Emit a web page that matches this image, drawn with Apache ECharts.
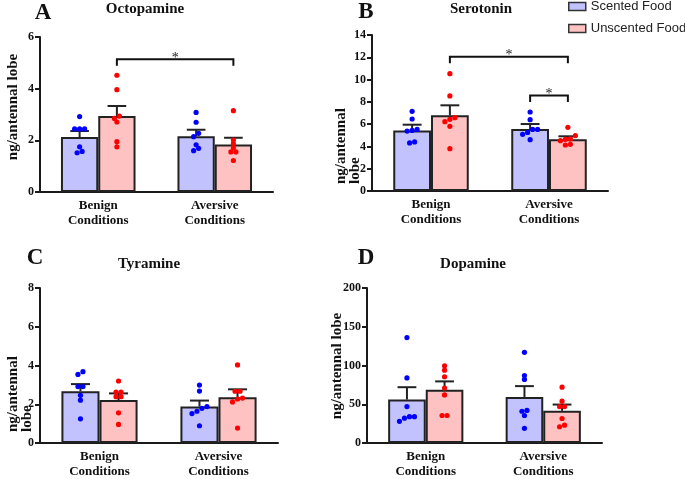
<!DOCTYPE html>
<html>
<head>
<meta charset="utf-8">
<script src="https://cdn.jsdelivr.net/npm/echarts@6/dist/echarts.min.js"></script>
<style>
html,body{margin:0;padding:0;background:#fff;}
#chart{width:685px;height:479px;}
</style>
</head>
<body>
<div id="chart"></div>
<script>
// ---------------- DATA ----------------
const categories = ['Benign\nConditions', 'Aversive\nConditions'];
const seriesNames = ['Scented Food', 'Unscented Food'];

// [scented, unscented] x [benign, aversive]
const octoMean = [[2.13, 2.16], [2.94, 1.84]];
const octoSem = [[0.23, 0.25], [0.39, 0.26]];
const octoPoints = [
  [[2.92, 2.44, 2.44, 2.44, 1.75, 1.52, 1.57], [3.08, 2.70, 2.27, 2.14, 1.83, 1.69, 1.60]],
  [[4.52, 3.96, 2.94, 2.85, 2.71, 1.95, 1.75], [3.15, 2.01, 1.87, 1.71, 1.55, 1.55, 1.22]]
];
const octoBrackets = [[0, 1, 1, 1, 5.14]]; // from [cat, series] to [cat, series] at y

const seroMean = [[5.44, 5.56], [6.79, 4.64]];
const seroSem = [[0.51, 0.45], [0.90, 0.27]];
const seroPoints = [
  [[7.15, 6.46, 5.44, 5.38, 5.53, 4.31, 4.40], [7.09, 6.40, 5.53, 5.53, 5.26, 5.09, 4.61]],
  [[10.53, 8.53, 6.43, 6.22, 6.58, 5.80, 3.80], [5.71, 4.97, 4.67, 4.64, 4.52, 4.13, 4.19]]
];
const seroBrackets = [[0, 1, 1, 1, 12.05], [1, 0, 1, 1, 8.57]];

const tyraMean = [[2.67, 1.88], [2.22, 2.36]];
const tyraSem = [[0.37, 0.31], [0.34, 0.41]];
const tyraPoints = [
  [[3.54, 3.68, 2.91, 2.91, 2.46, 2.21, 1.25], [2.99, 2.68, 1.79, 1.88, 1.64, 1.52, 0.89]],
  [[3.20, 2.63, 2.63, 2.39, 2.39, 1.56, 0.96], [4.03, 2.67, 2.67, 2.27, 2.32, 2.12, 0.77]]
];
const tyraBrackets = [];

const dopaMean = [[56.0, 59.4], [68.8, 41.5]];
const dopaSem = [[16.0, 14.0], [10.7, 8.1]];
const dopaPoints = [
  [[136, 84, 47, 34, 28, 32, 34], [117, 87, 82, 41, 42, 35.5, 19]],
  [[99.6, 94, 85.5, 71, 62, 35.5, 35.5], [72, 54, 47, 47, 31.6, 21, 23]]
];
const dopaBrackets = [];

const yTicksMax = [6, 14, 8, 200];
const yTicksInterval = [2, 2, 2, 50];
const panelTitles = ['Octopamine', 'Serotonin', 'Tyramine', 'Dopamine'];
const panelLetters = ['A', 'B', 'C', 'D'];
const yAxisNames = ['ng/antennal lobe', 'ng/antennal\nlobe', 'ng/antennal\nlobe', 'ng/antennal lobe'];

// ---------------- STYLE / LAYOUT ----------------
const SERIF = '"Liberation Serif", "Times New Roman", serif';
const SANS = '"Liberation Sans", Arial, sans-serif';
const INK = '#1a1a1a';
const barFill = ['#c2c2ff', '#ffc2c2'];
const dotColor = ['#0000ff', '#ff0000'];
const BAR_FRAC = 0.32;
const SPREAD = 5;

const grids = [
  {left: 40, top: 37, width: 233, height: 155},
  {left: 372, top: 35, width: 236, height: 156},
  {left: 40, top: 288, width: 238, height: 156},
  {left: 367, top: 288, width: 235, height: 156}
];
const titlePos = [[145, 9], [481, 9], [149, 264], [473, 264]];
const letterPos = [[43, 13], [366, 12], [35, 258], [366, 258]];
const yNamePos = [
  {x: 13, y: 107, align: 'center'},
  {x: 348, y: 184, align: 'left'},
  {x: 20.5, y: 432, align: 'left'},
  {x: 337, y: 366, align: 'center'}
];

const panels = [
  {mean: octoMean, sem: octoSem, pts: octoPoints, br: octoBrackets},
  {mean: seroMean, sem: seroSem, pts: seroPoints, br: seroBrackets},
  {mean: tyraMean, sem: tyraSem, pts: tyraPoints, br: tyraBrackets},
  {mean: dopaMean, sem: dopaSem, pts: dopaPoints, br: dopaBrackets}
];

function xPos(cat, s) { return cat + 0.5 + (s === 0 ? -BAR_FRAC / 2 : BAR_FRAC / 2); }

function jitter(values, axisMax) {
  const idx = values.map((v, i) => i).sort((a, b) => values[a] - values[b]);
  const thr = axisMax * 0.022;
  const off = new Array(values.length).fill(0);
  let cluster = [idx[0]];
  const flush = () => {
    const n = cluster.length;
    cluster.forEach((id, k) => { off[id] = (k - (n - 1) / 2) * SPREAD; });
  };
  for (let i = 1; i < idx.length; i++) {
    if (values[idx[i]] - values[idx[i - 1]] < thr) cluster.push(idx[i]);
    else { flush(); cluster = [idx[i]]; }
  }
  flush();
  return off;
}

const option = {
  animation: false,
  backgroundColor: '#fff',
  grid: grids.map(g => Object.assign({containLabel: false}, g)),
  xAxis: [],
  yAxis: [],
  series: [],
  legend: {
    data: seriesNames,
    orient: 'vertical',
    left: 568,
    top: 0,
    padding: 0,
    itemGap: 9,
    itemWidth: 17,
    itemHeight: 8,
    icon: 'rect',
    selectedMode: false,
    itemStyle: {borderColor: '#333', borderWidth: 1.5},
    textStyle: {fontFamily: SANS, fontSize: 13, color: '#222'}
  },
  graphic: []
};

panels.forEach((P, p) => {
  option.xAxis.push({
    type: 'category', gridIndex: p, data: categories,
    axisLine: {lineStyle: {color: INK, width: 2}},
    axisTick: {alignWithLabel: true, length: 5, lineStyle: {color: INK, width: 2}},
    axisLabel: {fontFamily: SERIF, fontWeight: 'bold', fontSize: 13, lineHeight: 15, color: '#111', margin: 6},
    splitLine: {show: false}
  });
  option.xAxis.push({type: 'value', gridIndex: p, min: 0, max: 2, show: false});
  option.yAxis.push({
    type: 'value', gridIndex: p, min: 0, max: yTicksMax[p], interval: yTicksInterval[p],
    axisLine: {show: true, lineStyle: {color: INK, width: 2}},
    axisTick: {show: true, length: 5, lineStyle: {color: INK, width: 2}},
    axisLabel: {fontFamily: SERIF, fontWeight: 'bold', fontSize: 12, color: '#111', margin: 6},
    splitLine: {show: false}
  });

  [0, 1].forEach(s => {
    option.series.push({
      type: 'bar', name: seriesNames[s], xAxisIndex: 2 * p, yAxisIndex: p,
      data: P.mean[s], barWidth: (BAR_FRAC * 100) + '%', barGap: '0%',
      itemStyle: {color: barFill[s], borderColor: '#222', borderWidth: 2},
      z: 2
    });
  });

  const errData = [];
  [0, 1].forEach(s => [0, 1].forEach(c => {
    errData.push([xPos(c, s), P.mean[s][c], P.mean[s][c] + P.sem[s][c]]);
  }));
  option.series.push({
    type: 'custom', xAxisIndex: 2 * p + 1, yAxisIndex: p, data: errData, z: 3,
    renderItem: (params, api) => {
      const p0 = api.coord([api.value(0), api.value(1)]);
      const p1 = api.coord([api.value(0), api.value(2)]);
      const band = api.size([1, 0])[0];
      const half = band * BAR_FRAC / 4;
      return {type: 'group', children: [
        {type: 'line', shape: {x1: p0[0], y1: p0[1], x2: p1[0], y2: p1[1]}, style: {stroke: '#222', lineWidth: 2}},
        {type: 'line', shape: {x1: p1[0] - half, y1: p1[1], x2: p1[0] + half, y2: p1[1]}, style: {stroke: '#222', lineWidth: 2}}
      ]};
    }
  });

  const ptData = [];
  [0, 1].forEach(s => [0, 1].forEach(c => {
    const vals = P.pts[s][c];
    const off = jitter(vals, yTicksMax[p]);
    vals.forEach((v, i) => ptData.push([xPos(c, s), v, off[i], s]));
  }));
  option.series.push({
    type: 'custom', xAxisIndex: 2 * p + 1, yAxisIndex: p, data: ptData, z: 4,
    renderItem: (params, api) => {
      const c = api.coord([api.value(0), api.value(1)]);
      return {type: 'circle', shape: {cx: c[0] + api.value(2), cy: c[1], r: 2.6},
        style: {fill: dotColor[api.value(3)]}};
    }
  });

  if (P.br.length) {
    option.series.push({
      type: 'custom', xAxisIndex: 2 * p + 1, yAxisIndex: p, z: 5,
      data: P.br.map(b => [xPos(b[0], b[1]), xPos(b[2], b[3]), b[4]]),
      renderItem: (params, api) => {
        const a = api.coord([api.value(0), api.value(2)]);
        const b = api.coord([api.value(1), api.value(2)]);
        const drop = 6.5;
        return {type: 'group', children: [
          {type: 'polyline', shape: {points: [[a[0], a[1] + drop], [a[0], a[1]], [b[0], b[1]], [b[0], b[1] + drop]]},
            style: {stroke: '#111', lineWidth: 2, fill: null}},
          {type: 'text', x: (a[0] + b[0]) / 2, y: a[1] - 1,
            style: {text: '*', fontFamily: SERIF, fontSize: 14, fill: '#222',
              textAlign: 'center', textVerticalAlign: 'middle', align: 'center', verticalAlign: 'middle'}}
        ]};
      }
    });
  }

  option.graphic.push({
    type: 'text', x: titlePos[p][0], y: titlePos[p][1],
    style: {text: panelTitles[p], fontFamily: SERIF, fontWeight: 'bold', fontSize: 15, fill: '#111',
      textAlign: 'center', textVerticalAlign: 'middle', align: 'center', verticalAlign: 'middle'}
  });
  option.graphic.push({
    type: 'text', x: letterPos[p][0], y: letterPos[p][1],
    style: {text: panelLetters[p], fontFamily: SERIF, fontWeight: 'bold', fontSize: 23, fill: '#111',
      textAlign: 'center', textVerticalAlign: 'middle', align: 'center', verticalAlign: 'middle'}
  });
  const yn = yNamePos[p];
  option.graphic.push({
    type: 'text', x: yn.x, y: yn.y, rotation: Math.PI / 2,
    style: {text: yAxisNames[p], fontFamily: SERIF, fontWeight: 'bold', fontSize: 15, lineHeight: 14, fill: '#111',
      textAlign: yn.align, textVerticalAlign: 'middle', align: yn.align, verticalAlign: 'middle'}
  });
});

const chart = echarts.init(document.getElementById('chart'), null, {renderer: 'canvas'});
chart.setOption(option);
</script>
</body>
</html>
